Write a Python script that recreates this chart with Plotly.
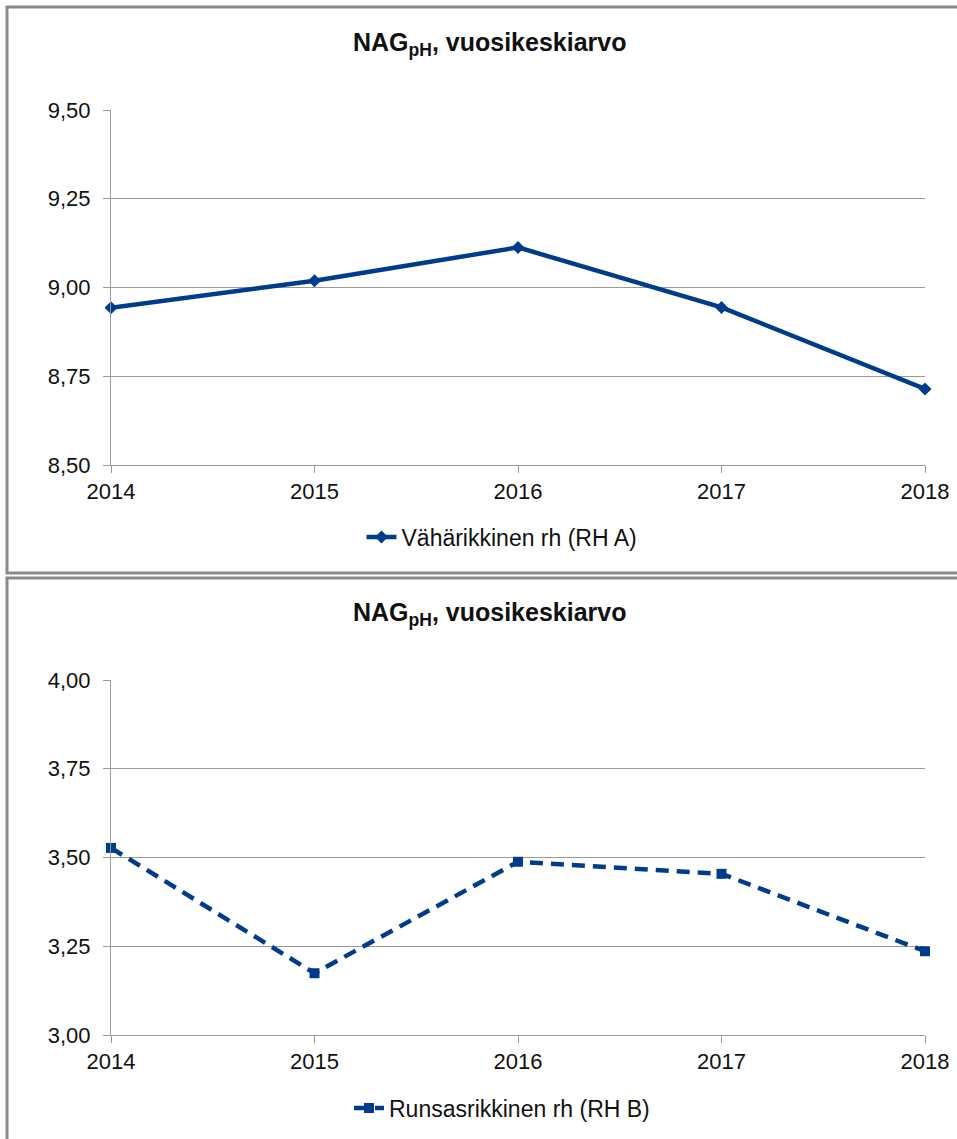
import plotly.graph_objects as go

years = [2014, 2015, 2016, 2017, 2018]
rh_a = [8.943, 9.019, 9.113, 8.944, 8.714]
rh_b = [3.527, 3.174, 3.488, 3.454, 3.236]
title_text = "<b>NAG<sub>pH</sub>, vuosikeskiarvo</b>"
name_a = "Vähärikkinen rh (RH A)"
name_b = "Runsasrikkinen rh (RH B)"

W, H = 957, 1139
BLUE = "#003C8C"
GRID = "#9a9a9a"
FONT = "Liberation Sans, Arial, sans-serif"

def px_x(p):
    return p / W

def px_y(p):
    return 1 - p / H

fig = go.Figure()
fig.add_trace(go.Scatter(
    x=years, y=rh_a, name=name_a, mode="lines+markers",
    line=dict(color=BLUE, width=4.5),
    marker=dict(symbol="diamond", size=10, color=BLUE),
    xaxis="x", yaxis="y", legend="legend", cliponaxis=False,
))
fig.add_trace(go.Scatter(
    x=years, y=rh_b, name=name_b, mode="lines+markers",
    line=dict(color=BLUE, width=4.5, dash="13px,8px"),
    marker=dict(symbol="square", size=10, color=BLUE),
    xaxis="x2", yaxis="y2", legend="legend2", cliponaxis=False,
))

xdom = [px_x(111), px_x(925)]
axis_common = dict(
    showline=True, linecolor=GRID, linewidth=1,
    ticks="outside", ticklen=7, tickcolor=GRID,
    tickfont=dict(family=FONT, size=22, color="#111"),
    zeroline=False, automargin=False,
)
fig.update_layout(
    template="none",
    width=W, height=H,
    margin=dict(l=0, r=0, t=0, b=0, pad=0, autoexpand=False),
    paper_bgcolor="white", plot_bgcolor="white",
    separators=", ",
    font=dict(family=FONT, color="#111"),
    xaxis=dict(domain=xdom, anchor="y", range=[2014, 2018], tickvals=years,
               showgrid=False, **axis_common),
    yaxis=dict(domain=[px_y(465), px_y(110)], anchor="x", range=[8.5, 9.5], dtick=0.25,
               tickformat=".2f", showgrid=True, gridcolor=GRID, gridwidth=1,
               ticklabelstandoff=8, **axis_common),
    xaxis2=dict(domain=xdom, anchor="y2", range=[2014, 2018], tickvals=years,
                showgrid=False, **axis_common),
    yaxis2=dict(domain=[px_y(1035), px_y(680)], anchor="x2", range=[3.0, 4.0], dtick=0.25,
                tickformat=".2f", showgrid=True, gridcolor=GRID, gridwidth=1,
                ticklabelstandoff=8, **axis_common),
    legend=dict(x=px_x(502), xanchor="center", y=px_y(537), yanchor="middle",
                orientation="h", font=dict(family=FONT, size=23, color="#111"),
                bgcolor="rgba(0,0,0,0)"),
    legend2=dict(x=px_x(502), xanchor="center", y=px_y(1108), yanchor="middle",
                 orientation="h", font=dict(family=FONT, size=23, color="#111"),
                 bgcolor="rgba(0,0,0,0)"),
    showlegend=True,
)

for ycen in (44, 614):
    fig.add_annotation(
        text=title_text, xref="paper", yref="paper",
        x=px_x(489), y=px_y(ycen), xanchor="center", yanchor="middle",
        showarrow=False, font=dict(family=FONT, size=25, color="#111"),
    )

fig.add_shape(type="rect", xref="paper", yref="paper",
              x0=px_x(7), x1=1.05, y0=px_y(573), y1=px_y(7),
              line=dict(color="#8a8a8a", width=3), layer="below")
fig.add_shape(type="rect", xref="paper", yref="paper",
              x0=px_x(7), x1=1.05, y0=-0.05, y1=px_y(578),
              line=dict(color="#8a8a8a", width=3), layer="below")

fig.write_html("out.html")
